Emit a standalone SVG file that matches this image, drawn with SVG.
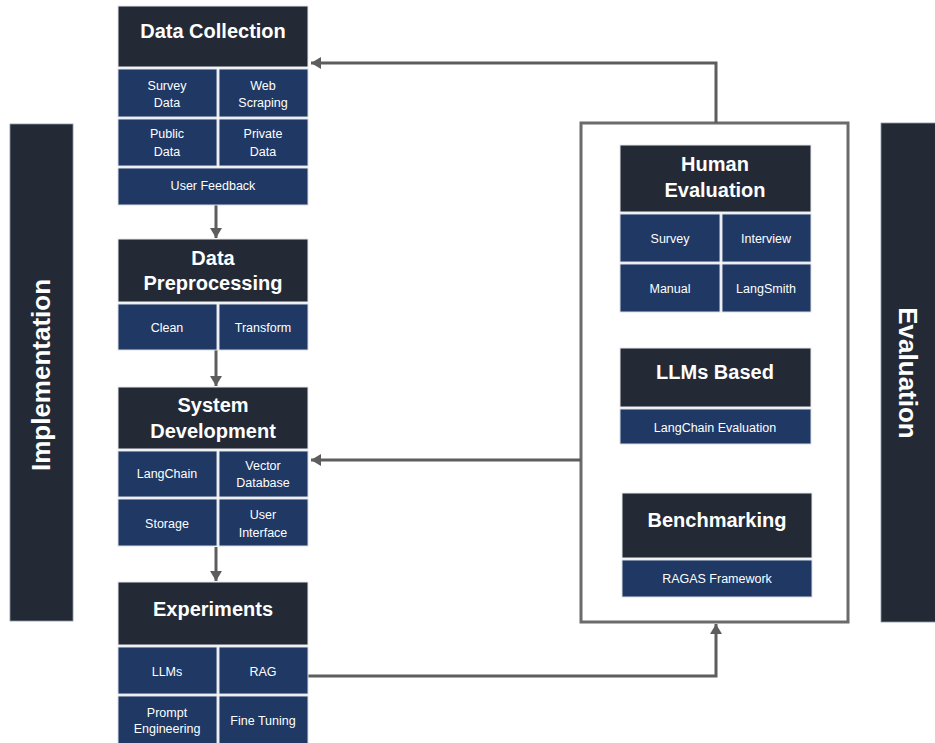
<svg xmlns="http://www.w3.org/2000/svg" width="935" height="743" viewBox="0 0 935 743">
<style>
.hd{fill:#232a36;stroke:#e6e8ec;stroke-width:1}
.cl{fill:#1f3864;stroke:#d9dde5;stroke-width:1}
.bar{fill:#232a36;stroke:#8a96aa;stroke-width:0.8}
.ht{font-family:"Liberation Sans",Arial,sans-serif;font-weight:bold;font-size:20px;fill:#fff;text-anchor:middle}
.ct{font-family:"Liberation Sans",Arial,sans-serif;font-size:12.5px;fill:#fff;text-anchor:middle}
.st{font-family:"Liberation Sans",Arial,sans-serif;font-weight:bold;font-size:26px;fill:#fff;text-anchor:middle}
.cn{fill:none;stroke:#5d5d5d;stroke-width:3}
</style>
<defs>
<marker id="ah" markerUnits="userSpaceOnUse" markerWidth="12" markerHeight="12" refX="10" refY="6" orient="auto">
<path d="M0,0 L10,6 L0,12 z" fill="#5d5d5d"/>
</marker>
</defs>

<g id="implementation">
<rect class="bar" x="10" y="124" width="63" height="497"/>
<text class="st" transform="translate(50,375) rotate(-90)">Implementation</text>
</g>

<g id="evaluation-bar">
<rect class="bar" x="881" y="123" width="56" height="499"/>
<text class="st" transform="translate(899,373) rotate(90)">Evaluation</text>
</g>

<g id="eval-box">
<rect x="581" y="123" width="267" height="499" fill="#fff" stroke="#6b6b6b" stroke-width="3"/>
</g>

<g id="connectors">
<path class="cn" d="M716,123 V63 H311" marker-end="url(#ah)"/>
<path class="cn" d="M581,460 H311" marker-end="url(#ah)"/>
<path class="cn" d="M308,676 H716 V624" marker-end="url(#ah)"/>
<path class="cn" d="M216,205 V238" marker-end="url(#ah)"/>
<path class="cn" d="M216,350 V386" marker-end="url(#ah)"/>
<path class="cn" d="M216,547 V581" marker-end="url(#ah)"/>
</g>

<g id="data-collection">
<rect class="hd" x="118" y="6" width="190" height="61"/>
<text class="ht" x="213" y="38">Data Collection</text>
<rect class="cl" x="118" y="69" width="99" height="48"/>
<rect class="cl" x="219" y="69" width="89" height="48"/>
<rect class="cl" x="118" y="119" width="99" height="47"/>
<rect class="cl" x="219" y="119" width="89" height="47"/>
<rect class="cl" x="118" y="168" width="190" height="37"/>
<text class="ct" x="167" y="90">Survey</text>
<text class="ct" x="167" y="107">Data</text>
<text class="ct" x="263" y="90">Web</text>
<text class="ct" x="263" y="107">Scraping</text>
<text class="ct" x="167" y="138">Public</text>
<text class="ct" x="167" y="156">Data</text>
<text class="ct" x="263" y="138">Private</text>
<text class="ct" x="263" y="156">Data</text>
<text class="ct" x="213" y="190">User Feedback</text>
</g>

<g id="data-preprocessing">
<rect class="hd" x="118" y="239" width="190" height="63"/>
<text class="ht" x="213" y="265">Data</text>
<text class="ht" x="213" y="290">Preprocessing</text>
<rect class="cl" x="118" y="304" width="99" height="46"/>
<rect class="cl" x="219" y="304" width="89" height="46"/>
<text class="ct" x="167" y="332">Clean</text>
<text class="ct" x="263" y="332">Transform</text>
</g>

<g id="system-development">
<rect class="hd" x="118" y="387" width="190" height="62"/>
<text class="ht" x="213" y="412">System</text>
<text class="ht" x="213" y="438">Development</text>
<rect class="cl" x="118" y="451" width="99" height="46"/>
<rect class="cl" x="219" y="451" width="89" height="46"/>
<rect class="cl" x="118" y="499" width="99" height="47"/>
<rect class="cl" x="219" y="499" width="89" height="47"/>
<text class="ct" x="167" y="478">LangChain</text>
<text class="ct" x="263" y="470">Vector</text>
<text class="ct" x="263" y="487">Database</text>
<text class="ct" x="167" y="528">Storage</text>
<text class="ct" x="263" y="519">User</text>
<text class="ct" x="263" y="537">Interface</text>
</g>

<g id="experiments">
<rect class="hd" x="118" y="582" width="190" height="63"/>
<text class="ht" x="213" y="616">Experiments</text>
<rect class="cl" x="118" y="647" width="99" height="47"/>
<rect class="cl" x="219" y="647" width="89" height="47"/>
<rect class="cl" x="118" y="696" width="99" height="48"/>
<rect class="cl" x="219" y="696" width="89" height="48"/>
<text class="ct" x="167" y="676">LLMs</text>
<text class="ct" x="263" y="676">RAG</text>
<text class="ct" x="167" y="717">Prompt</text>
<text class="ct" x="167" y="733">Engineering</text>
<text class="ct" x="263" y="725">Fine Tuning</text>
</g>

<g id="human-evaluation">
<rect class="hd" x="620" y="145" width="191" height="67"/>
<text class="ht" x="715" y="171">Human</text>
<text class="ht" x="715" y="197">Evaluation</text>
<rect class="cl" x="620" y="214" width="100" height="48"/>
<rect class="cl" x="722" y="214" width="89" height="48"/>
<rect class="cl" x="620" y="264" width="100" height="48"/>
<rect class="cl" x="722" y="264" width="89" height="48"/>
<text class="ct" x="670" y="243">Survey</text>
<text class="ct" x="766" y="243">Interview</text>
<text class="ct" x="670" y="293">Manual</text>
<text class="ct" x="766" y="293">LangSmith</text>
</g>

<g id="llms-based">
<rect class="hd" x="620" y="348" width="191" height="59"/>
<text class="ht" x="715" y="379">LLMs Based</text>
<rect class="cl" x="620" y="409" width="191" height="35"/>
<text class="ct" x="715" y="432">LangChain Evaluation</text>
</g>

<g id="benchmarking">
<rect class="hd" x="622" y="493" width="190" height="65"/>
<text class="ht" x="717" y="527">Benchmarking</text>
<rect class="cl" x="622" y="560" width="190" height="37"/>
<text class="ct" x="717" y="583">RAGAS Framework</text>
</g>
</svg>
